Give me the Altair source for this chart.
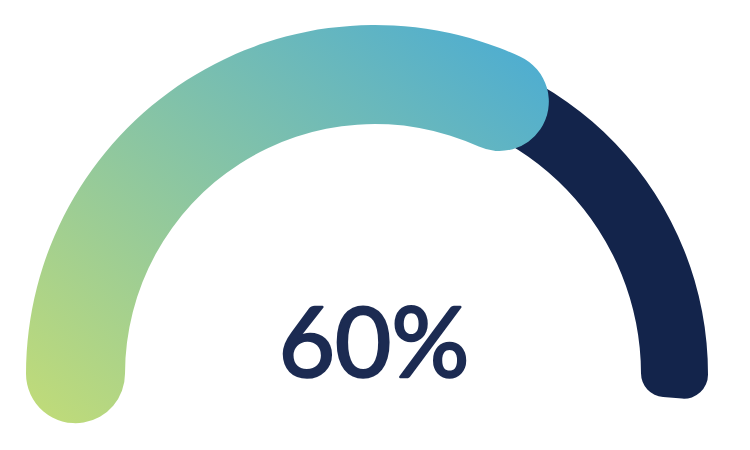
import altair as alt
import pandas as pd
import math

# Data
gauge_start = [0]
gauge_value = [60]
gauge_max = [100]
labels = ["60%"]

df = pd.DataFrame({
    "start": gauge_start,
    "value": gauge_value,
    "max": gauge_max,
    "label": labels,
})

CX, CY = 367, 366
theta_scale = alt.Scale(domain=[0, 100], range=[-math.pi / 2, math.pi / 2])

base = alt.Chart(df)

track = base.mark_arc(
    color="#13244b",
    cornerRadius=24,
    theta2Offset=0.08,
).encode(
    theta=alt.Theta("start:Q", scale=theta_scale, stack=False),
    theta2="max:Q",
    radius=alt.value(333),
    radius2=alt.value(266),
    x=alt.value(CX),
    y=alt.value(CY),
)

grad = alt.LinearGradient(
    gradient="linear",
    x1=0, y1=1, x2=1, y2=0.1,
    stops=[
        alt.GradientStop(color="#c2dc77", offset=0),
        alt.GradientStop(color="#4eadd1", offset=1),
    ],
)

progress = base.mark_arc(
    color=grad,
    cornerRadius=49.5,
    thetaOffset=-0.165,
    theta2Offset=0.28,
).encode(
    theta=alt.Theta("start:Q", scale=theta_scale, stack=False),
    theta2="value:Q",
    radius=alt.value(349),
    radius2=alt.value(250),
    x=alt.value(CX),
    y=alt.value(CY),
)

text = base.mark_text(
    font="Lato",
    fontSize=97,
    fontWeight="normal",
    color="#1c2b52",
    stroke="#1c2b52",
    strokeWidth=2.5,
    strokeJoin="round",
    align="center",
    baseline="alphabetic",
).encode(
    text="label:N",
    x=alt.value(366),
    y=alt.value(369),
)

chart = alt.layer(track, progress, text).properties(
    width=734,
    height=434,
    autosize=alt.AutoSizeParams(type="none"),
    padding=0,
).configure_view(strokeWidth=0)

chart.save("out.html", embed_options={"renderer": "svg", "actions": False})
